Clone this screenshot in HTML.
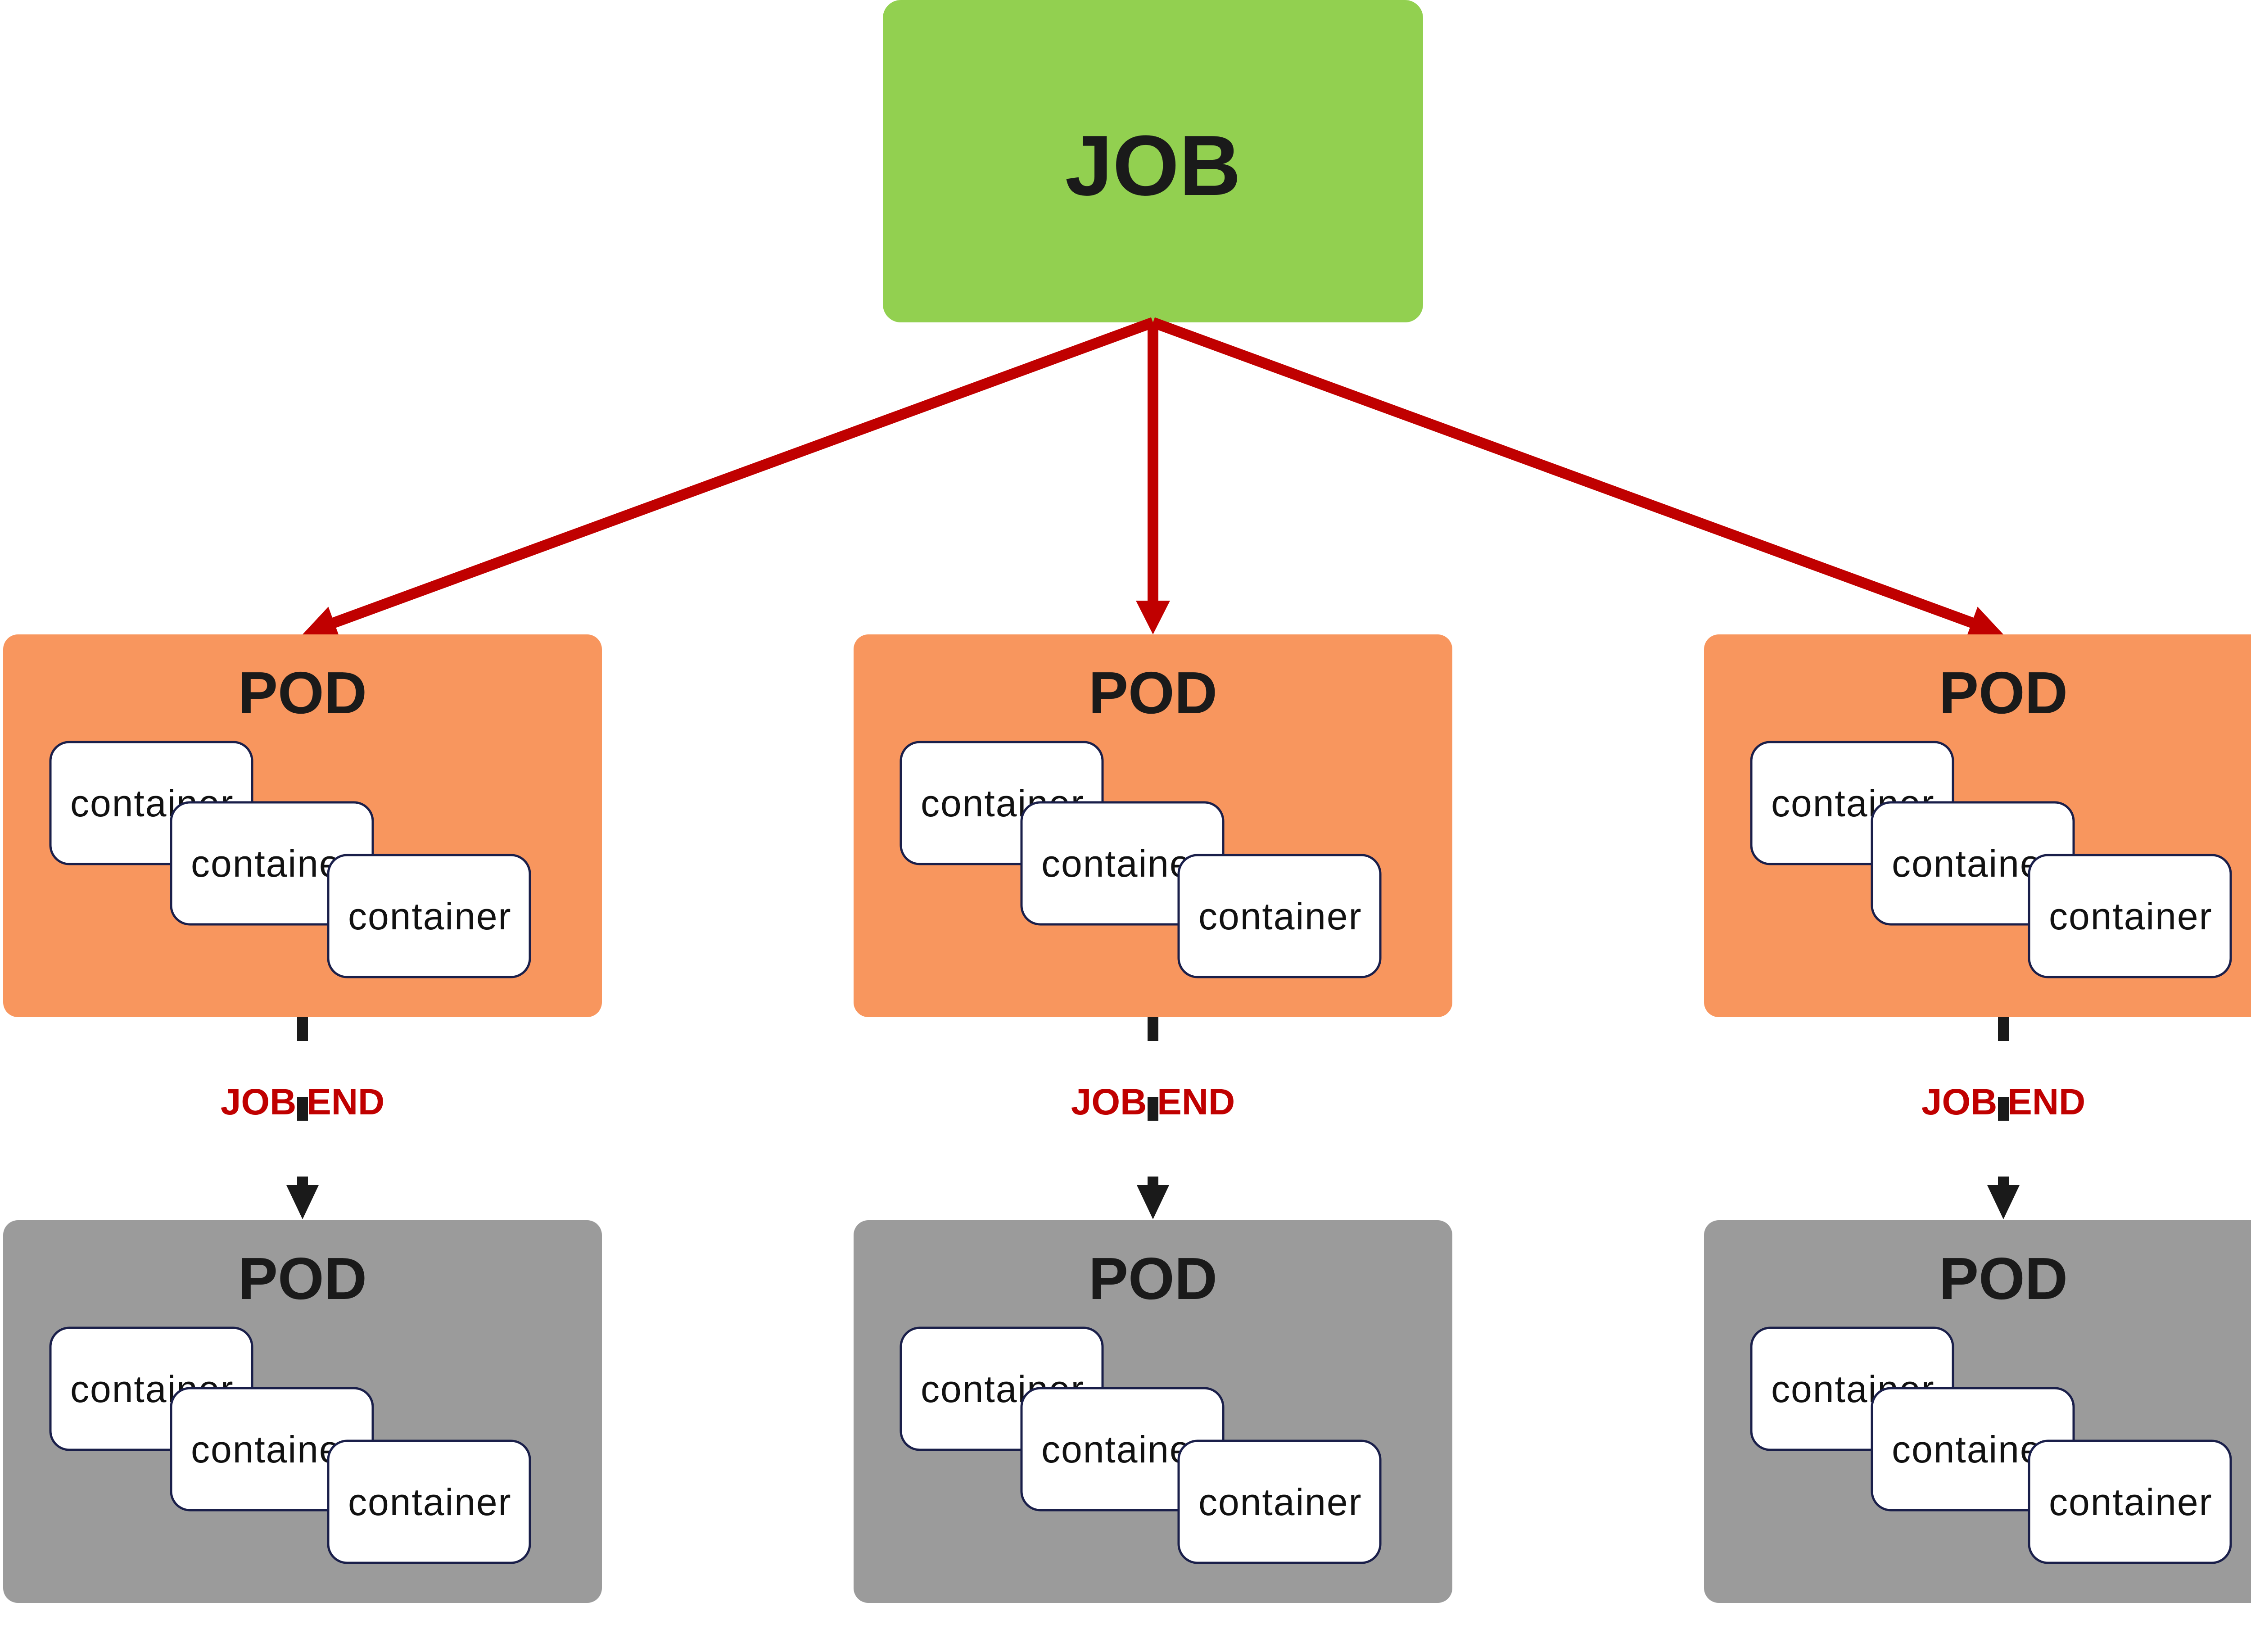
<!DOCTYPE html>
<html><head><meta charset="utf-8"><style>
html,body{margin:0;padding:0;background:#fff;}
svg{display:block;}
text{font-family:"Liberation Sans",sans-serif;}
.pt{font-size:132px;font-weight:bold;fill:#1a1a1a;text-anchor:middle;}
.ct{font-size:84px;fill:#111;letter-spacing:2px;}
.c{fill:#fff;stroke:#1a1f4a;stroke-width:5;}
.je{font-size:82px;font-weight:bold;fill:#c00000;text-anchor:middle;}
</style></head><body>
<svg width="5125" height="3669" viewBox="0 0 5125 3669" xmlns="http://www.w3.org/2000/svg">
<defs>
<g id="conts">
<rect class="c" x="105" y="239" width="448" height="271" rx="42"/>
<text class="ct" x="149" y="404">container</text>
<rect class="c" x="373" y="373" width="448" height="271" rx="42"/>
<text class="ct" x="417" y="538">container</text>
<rect class="c" x="722" y="490" width="448" height="271" rx="42"/>
<text class="ct" x="766" y="655">container</text>
</g>
</defs>
<!-- JOB -->
<rect x="1961" y="0" width="1200" height="716" rx="40" fill="#92d050"/>
<text x="2561" y="433" font-size="190" font-weight="bold" fill="#1a1a1a" text-anchor="middle">JOB</text>
<!-- red arrows -->
<g stroke="#c00000" stroke-width="24" fill="none">
<line x1="2561" y1="716" x2="2561" y2="1336"/>
<line x1="2561" y1="716" x2="742" y2="1383"/>
<line x1="2561" y1="716" x2="4380" y2="1383"/>
</g>
<g fill="#c00000">
<polygon points="2523,1334 2599,1334 2561,1409"/>
<polygon points="672,1409 755.5,1418.9 729.3,1347.5"/>
<polygon points="4450,1409 4392.7,1347.5 4366.5,1418.9"/>
</g>
<!-- pods -->
<g transform="translate(7,1409)"><rect width="1330" height="850" rx="33" fill="#f8965e"/><text class="pt" x="665" y="175">POD</text><use href="#conts"/></g>
<g transform="translate(1896,1409)"><rect width="1330" height="850" rx="33" fill="#f8965e"/><text class="pt" x="665" y="175">POD</text><use href="#conts"/></g>
<g transform="translate(3785,1409)"><rect width="1330" height="850" rx="33" fill="#f8965e"/><text class="pt" x="665" y="175">POD</text><use href="#conts"/></g>
<g transform="translate(7,2710)"><rect width="1330" height="850" rx="33" fill="#9b9b9b"/><text class="pt" x="665" y="175">POD</text><use href="#conts"/></g>
<g transform="translate(1896,2710)"><rect width="1330" height="850" rx="33" fill="#9b9b9b"/><text class="pt" x="665" y="175">POD</text><use href="#conts"/></g>
<g transform="translate(3785,2710)"><rect width="1330" height="850" rx="33" fill="#9b9b9b"/><text class="pt" x="665" y="175">POD</text><use href="#conts"/></g>
<!-- JOB END connectors -->
<g>
<text class="je" x="672" y="2475">JOB END</text>
<line x1="672" y1="2259" x2="672" y2="2640" stroke="#1a1a1a" stroke-width="24" stroke-dasharray="53 124"/>
<polygon points="636,2632 708,2632 672,2708" fill="#1a1a1a"/>
</g>
<g transform="translate(1889,0)">
<text class="je" x="672" y="2475">JOB END</text>
<line x1="672" y1="2259" x2="672" y2="2640" stroke="#1a1a1a" stroke-width="24" stroke-dasharray="53 124"/>
<polygon points="636,2632 708,2632 672,2708" fill="#1a1a1a"/>
</g>
<g transform="translate(3778,0)">
<text class="je" x="672" y="2475">JOB END</text>
<line x1="672" y1="2259" x2="672" y2="2640" stroke="#1a1a1a" stroke-width="24" stroke-dasharray="53 124"/>
<polygon points="636,2632 708,2632 672,2708" fill="#1a1a1a"/>
</g>
</svg>
</body></html>
